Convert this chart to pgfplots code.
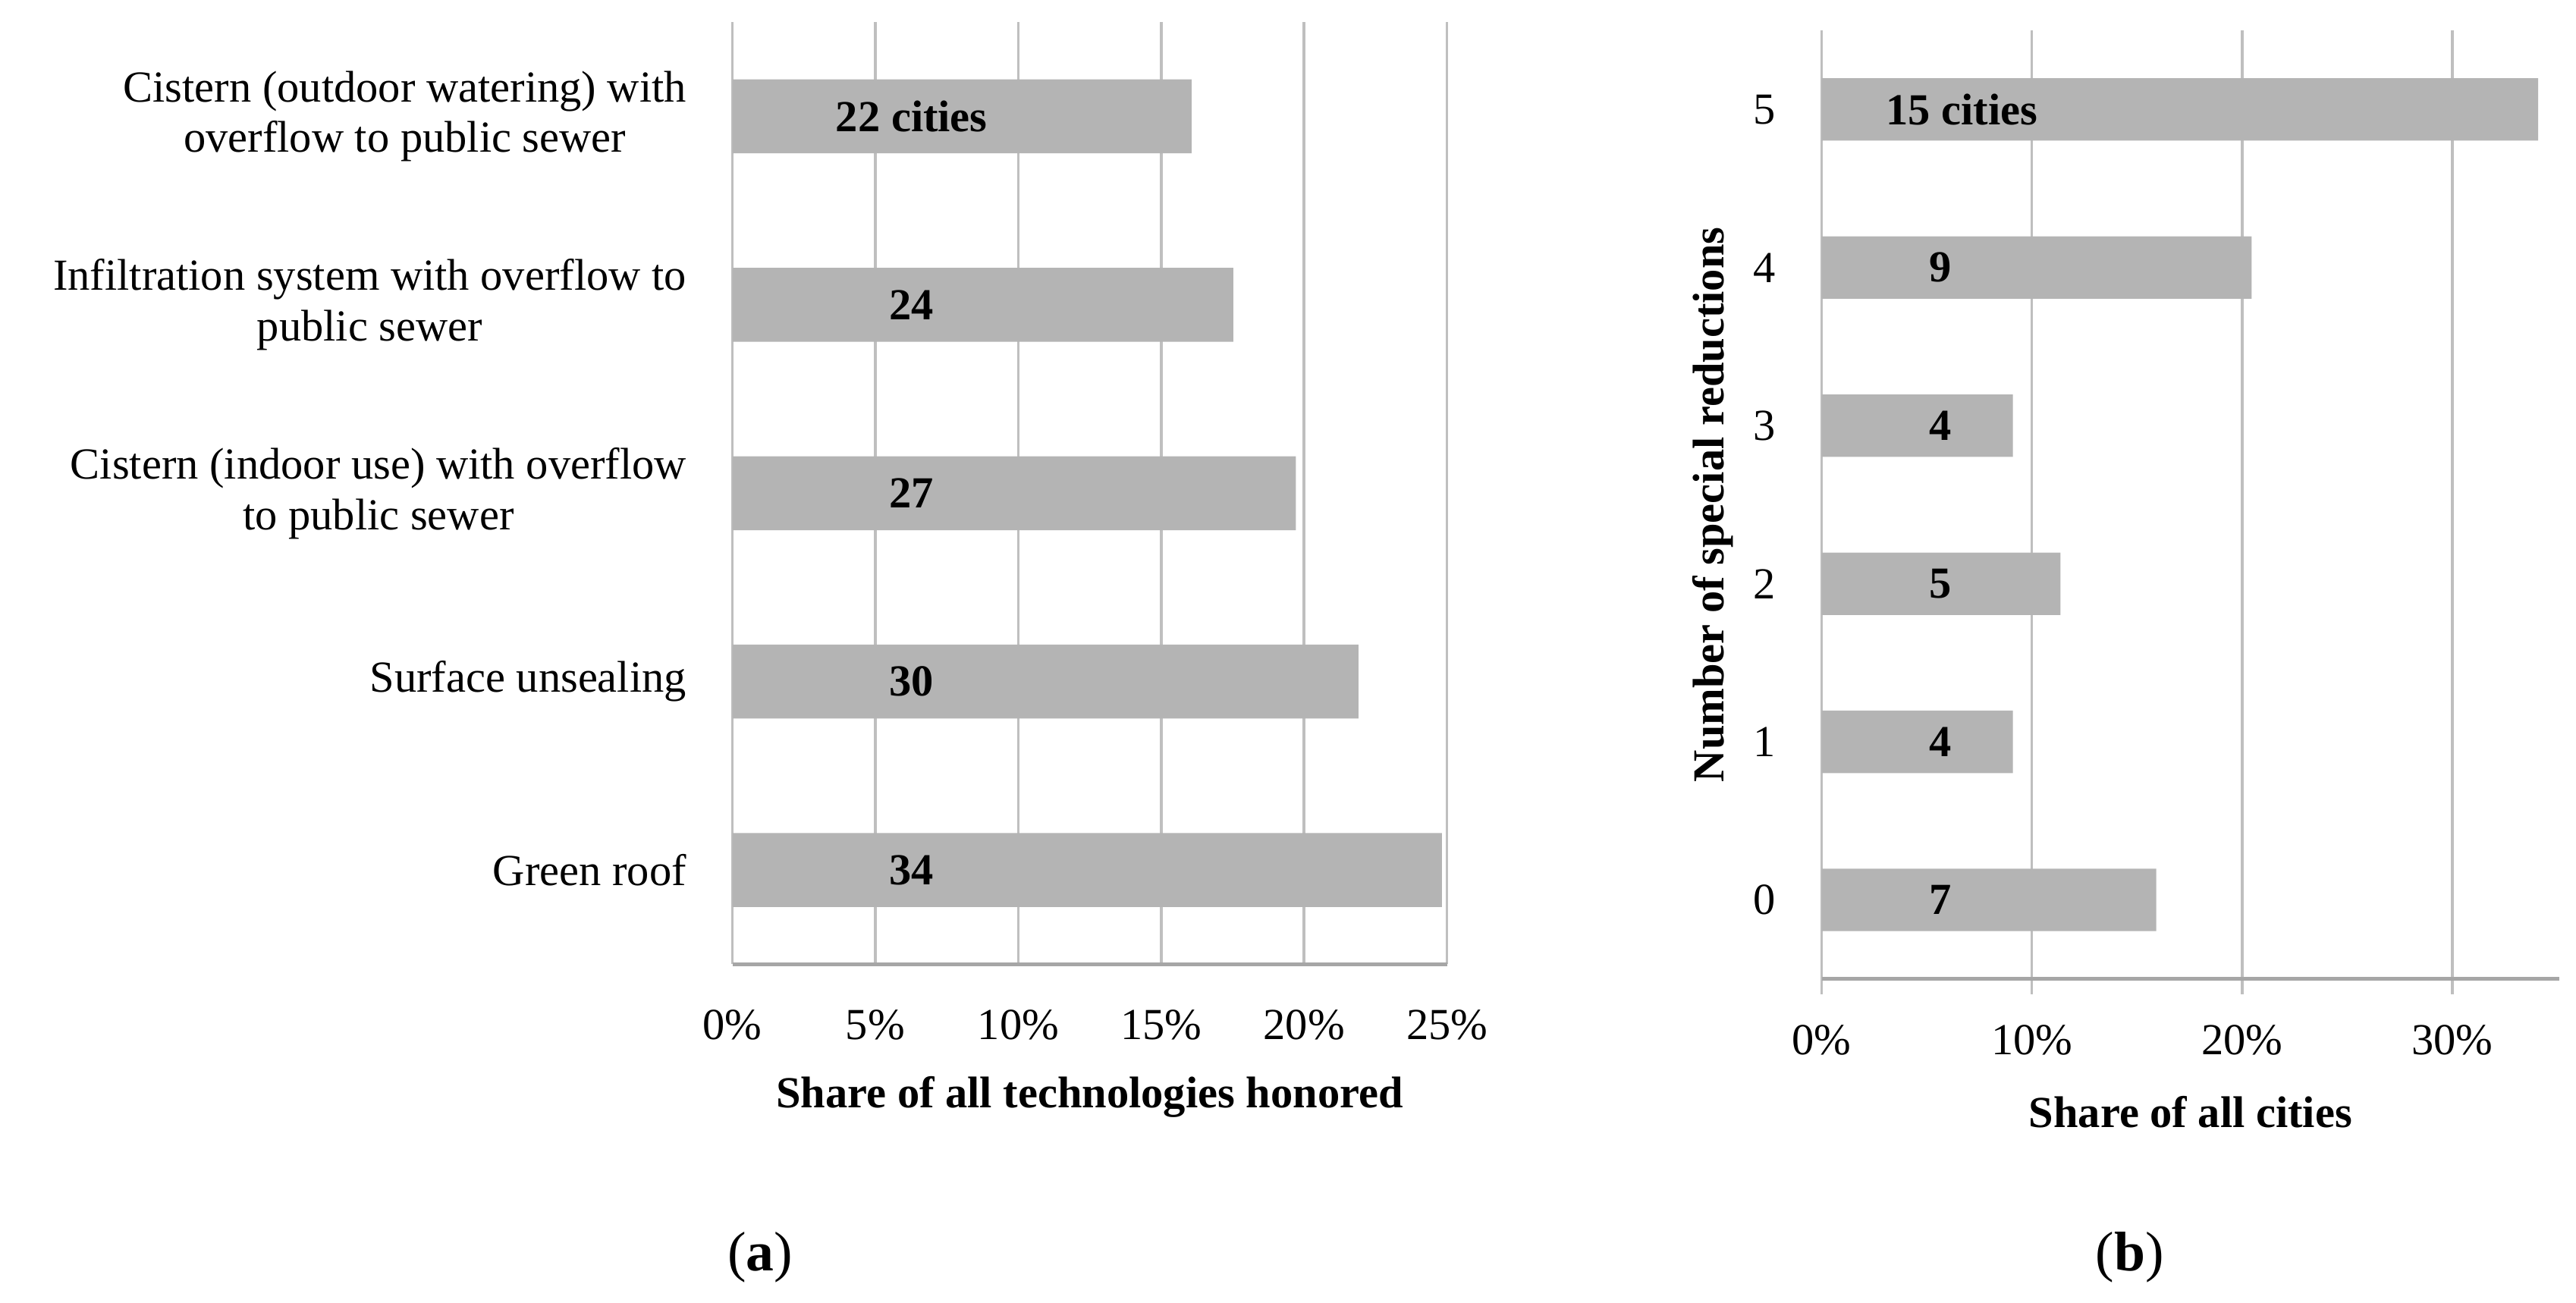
\documentclass[border=0pt]{standalone}
\usepackage{fontspec}
\setmainfont{Liberation Serif}
\usepackage{pgfplots}
\pgfplotsset{compat=1.18}

\definecolor{barfill}{RGB}{180,180,180}
\definecolor{gridc}{RGB}{191,191,191}
\definecolor{axisc}{RGB}{166,166,166}
\newcommand{\lab}{\fontsize{13.5}{15.4}\selectfont}

\begin{document}
\begin{tikzpicture}
\path[use as bounding box] (0,0) rectangle (784pt,396.5pt);

\pgfplotsset{panel/.style={
    scale only axis, anchor=south west,
    axis lines*=left,
    y axis line style={draw=none},
    x axis line style={axisc, line width=1.1pt},
    xmajorgrids, grid style={gridc, line width=0.8pt},
    ytick style={draw=none},
    enlargelimits=false,
    yticklabel style={anchor=east, inner sep=0pt, xshift=-13.8pt, align=center, font=\lab},
    xticklabel style={anchor=center, inner sep=0pt, yshift=-18.5pt, font=\lab},
    xlabel style={at={([yshift=-40.5pt]axis description cs:0.5,0)}, anchor=center, font=\lab\bfseries},
}}

% (a) share of all technologies honored
\begin{axis}[panel,
    at={(222.9pt,103pt)}, width=217.5pt, height=286.75pt,
    xmin=0, xmax=25, ymin=-0.5, ymax=4.5,
    xtick={0,5,...,25}, xticklabels={0\%,5\%,10\%,15\%,20\%,25\%},
    major tick length=0pt, xtick style={draw=none},
    ytick={0,...,4},
    yticklabels={{Green roof},{Surface unsealing},
        {Cistern (indoor use) with overflow\\to public sewer},
        {Infiltration system with overflow to\\public sewer},
        {Cistern (outdoor watering) with\\overflow to public sewer}},
    xlabel={Share of all technologies honored}]
\addplot[xbar, bar width=22.5pt, fill=barfill, draw=none]
    coordinates {(24.82,0) (21.90,1) (19.71,2) (17.52,3) (16.06,4)};
\node[font=\lab\bfseries] at (axis cs:6.27,4) {22 cities};
\node[font=\lab\bfseries] at (axis cs:6.27,3) {24};
\node[font=\lab\bfseries] at (axis cs:6.27,2) {27};
\node[font=\lab\bfseries] at (axis cs:6.27,1) {30};
\node[font=\lab\bfseries] at (axis cs:6.27,0) {34};
\end{axis}

% (b) number of special reductions
\begin{axis}[panel,
    at={(554.45pt,98.5pt)}, width=224.5pt, height=288.75pt,
    xmin=0, xmax=35.1, ymin=-0.5, ymax=5.5,
    xtick={0,10,20,30}, xticklabels={0\%,10\%,20\%,30\%},
    tick align=outside, major tick length=4.6pt,
    xtick style={gridc, line width=0.8pt},
    xticklabel style={yshift=4.6pt},
    yticklabel style={xshift=4.6pt},
    ytick={0,...,5}, yticklabels={0,1,2,3,4,5},
    ylabel={Number of special reductions},
    ylabel style={at={([xshift=-33.15pt]axis description cs:0,0.5)}, anchor=center, font=\lab\bfseries},
    xlabel={Share of all cities}]
\addplot[xbar, bar width=19pt, fill=barfill, draw=none]
    coordinates {(15.91,0) (9.09,1) (11.36,2) (9.09,3) (20.45,4) (34.09,5)};
\node[font=\lab\bfseries] at (axis cs:6.66,5) {15 cities};
\node[font=\lab\bfseries] at (axis cs:5.64,4) {9};
\node[font=\lab\bfseries] at (axis cs:5.64,3) {4};
\node[font=\lab\bfseries] at (axis cs:5.64,2) {5};
\node[font=\lab\bfseries] at (axis cs:5.64,1) {4};
\node[font=\lab\bfseries] at (axis cs:5.64,0) {7};
\end{axis}

\node[font=\fontsize{17}{20}\selectfont] at (231.4pt,13.7pt) {(\textbf{a})};
\node[font=\fontsize{17}{20}\selectfont] at (648.2pt,13.7pt) {(\textbf{b})};
\end{tikzpicture}
\end{document}
